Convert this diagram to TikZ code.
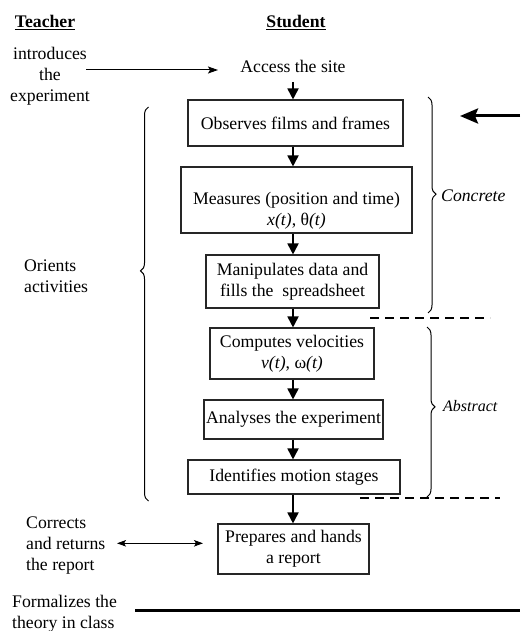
\documentclass[tikz,border=0pt]{standalone}
\usepackage{fontspec}
\setmainfont{Liberation Serif}
\usetikzlibrary{arrows.meta,decorations.pathreplacing,calc}
\begin{document}
\begin{tikzpicture}[x=1pt,y=-1pt,
  every node/.style={inner sep=0pt, font=\fontsize{17.7}{21}\selectfont},
  stepbox/.style={draw=black!85, line width=1.1pt, align=center},
  flow/.style={line width=1.8pt, -{Triangle[length=11pt,width=11pt]}},
  thinarrow/.style={line width=1pt, -{Stealth[length=10pt,width=7pt,inset=2pt]}},
  dbl/.style={line width=1pt, {Stealth[length=9pt,width=6.5pt,inset=2pt]}-{Stealth[length=9pt,width=6.5pt,inset=2pt]}},
  bracestyle/.style={line width=1pt, decorate, decoration={brace, amplitude=8pt, aspect=#1}},
  sepline/.style={line width=1.1pt, dash pattern=on 9pt off 6pt},
  lbl/.style={align=left, anchor=west},
  itlbl/.style={anchor=base west, font=\fontsize{17.7}{21}\selectfont\itshape},
]
\useasboundingbox (0,0) rectangle (520,631);

% headers
\node[anchor=base] (teacher) at (45,28) {\underline{\textbf{Teacher}}};
\node[anchor=base] (student) at (296,28) {\underline{\textbf{Student}}};

% teacher side
\node[align=center] (intro) at (50,76.8) {\strut introduces\\\strut the\\\strut experiment};
\node[lbl] (orients) at (24,277.8) {\strut Orients\\\strut activities};
\node[lbl] (corrects) at (26,544.8) {\strut Corrects\\\strut and returns\\\strut the report};
\node[lbl] (formal) at (12,613.3) {\strut Formalizes the\\\strut theory in class};

% student flow
\node[anchor=base] (access) at (293,72.5) {Access the site};
\node[stepbox, minimum width=215pt, minimum height=46pt] (b1) at (295.5,123) {Observes films and frames};
\node[stepbox, minimum width=231pt, minimum height=66pt] (b2) at (296.5,200)
  {\rule{0pt}{35.7pt}Measures (position and time)\\\textit{x(t)}, θ\textit{(t)}\strut};
\node[stepbox, minimum width=173pt, minimum height=53pt] (b3) at (292.5,281.5)
  {\strut Manipulates data and\\\strut fills the\ \ spreadsheet};
\node[stepbox, minimum width=164pt, minimum height=51pt] (b4) at (292,353.5)
  {\strut Computes velocities\\\strut\textit{v(t)}, ω\textit{(t)}};
\node[stepbox, minimum width=179pt, minimum height=39pt] (b5) at (293.5,419.5) {Analyses the experiment};
\node[stepbox, minimum width=212pt, minimum height=34pt] (b6) at (294,477) {Identifies motion stages};
\node[stepbox, minimum width=151pt, minimum height=50pt] (b7) at (293.5,549)
  {\strut Prepares and hands\\\strut a report};

\coordinate (ax) at (293,0);
\draw[flow, shorten <=9pt] (access.south -| ax) -- (b1.north -| ax);
\draw[flow] (b1.south -| ax) -- (b2.north -| ax);
\draw[flow] (b2.south -| ax) -- (b3.north -| ax);
\draw[flow] (b3.south -| ax) -- (b4.north -| ax);
\draw[flow] (b4.south -| ax) -- (b5.north -| ax);
\draw[flow] (b5.south -| ax) -- (b6.north -| ax);
\draw[flow] (b6.south -| ax) -- (b7.north -| ax);

% teacher arrows
\coordinate (iA) at (86,70);
\coordinate (iB) at (218,70);
\draw[thinarrow] (iA) -- (iB);
\coordinate (dA) at (117,543.3);
\coordinate (dB) at (203,543.3);
\draw[dbl] (dA) -- (dB);

% braces
\draw[bracestyle=0.584] (148.5,501) -- (148.5,107);
\draw[bracestyle=0.45] (428,97) -- (428,313);
\draw[bracestyle=0.47] (427,327) -- (427,497);
\node[itlbl] (concrete) at (441,201) {Concrete};
\node[itlbl, font=\fontsize{16}{19}\selectfont\itshape] (abstract) at (443,411.5) {Abstract};

% dashed separators
\coordinate (s1a) at (370,318);
\coordinate (s1b) at (490,318);
\draw[sepline] (s1a) -- (s1b);
\coordinate (s2a) at (360,498);
\coordinate (s2b) at (500,498);
\draw[sepline] (s2a) -- (s2b);

% thick arrow and thick line
\coordinate (tA) at (520,116);
\coordinate (tB) at (460,116);
\draw[line width=3pt, -{Stealth[length=18pt,width=15pt,inset=3pt]}] (tA) -- (tB);
\coordinate (fA) at (135,610);
\coordinate (fB) at (520,610);
\draw[line width=3pt] (fA) -- (fB);
\end{tikzpicture}
\end{document}
